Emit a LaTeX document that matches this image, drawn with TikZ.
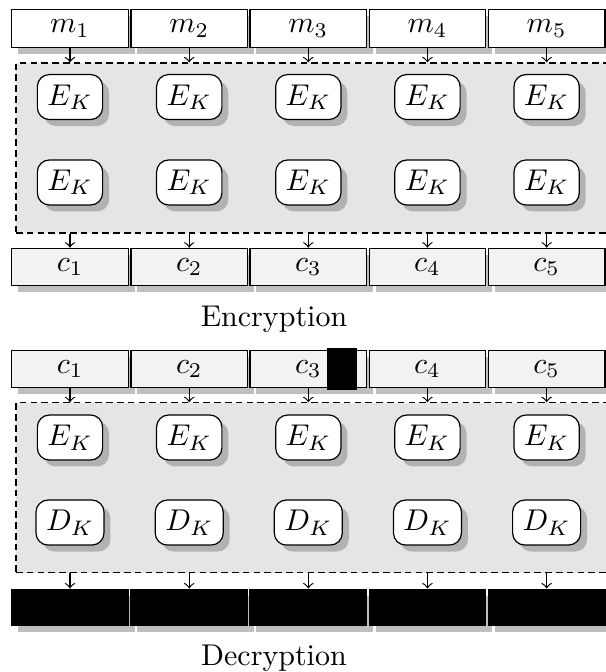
\documentclass[tikz,border=0pt]{standalone}
\usetikzlibrary{shadows}
\begin{document}
\begin{tikzpicture}
		\tikzstyle{blk}=[draw,
			fill=white,
			drop shadow,
			minimum width=1.366cm,
			minimum height=0.43cm,
			];
		\tikzstyle{cblk}=[blk,
			fill=gray!10,
			];
		\tikzstyle{hid}=[blk,
			fill=black,
			];
		\tikzstyle{key}=[draw,
			rounded corners,
			fill=white,
			drop shadow,
			];
		\tikzstyle{part}=[draw,
			dash pattern=on 2.2pt off 1.4pt,
			fill=gray!20,
			minimum width=7.1cm,
			minimum height=1.99cm,
			];

		\useasboundingbox (0,0) rectangle (7.088,7.873);

		% Encryption
		\node [part] (encpart) at (3.737,6.139) {};
		\node [blk] (m1) at (0.820,7.540) {$m_1$};
		\node [blk] (m2) at (2.217,7.540) {$m_2$};
		\node [blk] (m3) at (3.612,7.540) {$m_3$};
		\node [blk] (m4) at (5.008,7.540) {$m_4$};
		\node [blk] (m5) at (6.404,7.540) {$m_5$};

		\node [key] (ea1) at (0.820,6.736) {$E_K$};
		\node [key] (ea2) at (2.217,6.736) {$E_K$};
		\node [key] (ea3) at (3.612,6.736) {$E_K$};
		\node [key] (ea4) at (5.008,6.736) {$E_K$};
		\node [key] (ea5) at (6.404,6.736) {$E_K$};
		\node [key] (eb1) at (0.820,5.735) {$E_K$};
		\node [key] (eb2) at (2.217,5.735) {$E_K$};
		\node [key] (eb3) at (3.612,5.735) {$E_K$};
		\node [key] (eb4) at (5.008,5.735) {$E_K$};
		\node [key] (eb5) at (6.404,5.735) {$E_K$};

		\node [cblk] (c1) at (0.820,4.745) {$c_1$};
		\node [cblk] (c2) at (2.217,4.745) {$c_2$};
		\node [cblk] (c3) at (3.612,4.745) {$c_3$};
		\node [cblk] (c4) at (5.008,4.745) {$c_4$};
		\node [cblk] (c5) at (6.404,4.745) {$c_5$};

		\draw [->] (m1) -- (m1 |- encpart.north);
		\draw [->] (m2) -- (m2 |- encpart.north);
		\draw [->] (m3) -- (m3 |- encpart.north);
		\draw [->] (m4) -- (m4 |- encpart.north);
		\draw [->] (m5) -- (m5 |- encpart.north);
		\draw [->] (c1 |- encpart.south) -- (c1);
		\draw [->] (c2 |- encpart.south) -- (c2);
		\draw [->] (c3 |- encpart.south) -- (c3);
		\draw [->] (c4 |- encpart.south) -- (c4);
		\draw [->] (c5 |- encpart.south) -- (c5);

		\node [anchor=base] (enclabel) at (3.21,4.053) {Encryption};

		% Decryption
		\node [part] (decpart) at (3.737,2.158) {};
		\node [cblk] (dc1) at (0.820,3.551) {$c_1$};
		\node [cblk] (dc2) at (2.217,3.551) {$c_2$};
		\node [cblk] (dc3) at (3.612,3.551) {$c_3$};
		\node [cblk] (dc4) at (5.008,3.551) {$c_4$};
		\node [cblk] (dc5) at (6.404,3.551) {$c_5$};
		\node [draw,fill=black] (cut) at (4.009,3.550) [minimum width=0.34cm,minimum height=0.47cm] {};

		\node [key] (da1) at (0.820,2.747) {$E_K$};
		\node [key] (da2) at (2.217,2.747) {$E_K$};
		\node [key] (da3) at (3.612,2.747) {$E_K$};
		\node [key] (da4) at (5.008,2.747) {$E_K$};
		\node [key] (da5) at (6.404,2.747) {$E_K$};
		\node [key] (db1) at (0.820,1.751) {$D_K$};
		\node [key] (db2) at (2.217,1.751) {$D_K$};
		\node [key] (db3) at (3.612,1.751) {$D_K$};
		\node [key] (db4) at (5.008,1.751) {$D_K$};
		\node [key] (db5) at (6.404,1.751) {$D_K$};

		\node [hid] (p1) at (0.820,0.756) {};
		\node [hid] (p2) at (2.217,0.756) {};
		\node [hid] (p3) at (3.612,0.756) {};
		\node [hid] (p4) at (5.008,0.756) {};
		\node [hid] (p5) at (6.404,0.756) {};

		\draw [->] (dc1) -- (dc1 |- decpart.north);
		\draw [->] (dc2) -- (dc2 |- decpart.north);
		\draw [->] (dc3) -- (dc3 |- decpart.north);
		\draw [->] (dc4) -- (dc4 |- decpart.north);
		\draw [->] (dc5) -- (dc5 |- decpart.north);
		\draw [->] (p1 |- decpart.south) -- (p1);
		\draw [->] (p2 |- decpart.south) -- (p2);
		\draw [->] (p3 |- decpart.south) -- (p3);
		\draw [->] (p4 |- decpart.south) -- (p4);
		\draw [->] (p5 |- decpart.south) -- (p5);

		\node [anchor=base] (declabel) at (3.21,0.082) {Decryption};
	\end{tikzpicture}
\end{document}
